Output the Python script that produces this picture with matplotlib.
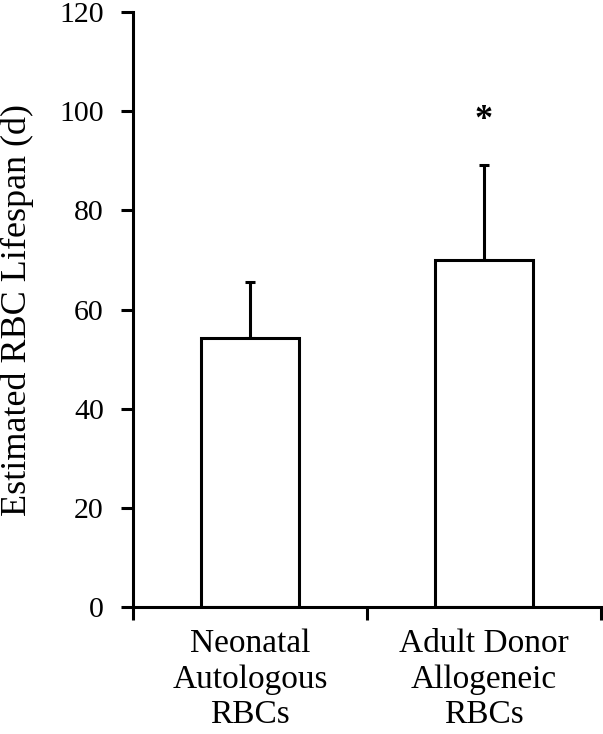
import matplotlib
matplotlib.use('Agg')
import matplotlib.pyplot as plt

plt.rcParams['font.family'] = ['Liberation Serif', 'DejaVu Serif']

groups = ['Neonatal\nAutologous\nRBCs', 'Adult Donor\nAllogeneic\nRBCs']
means = [54.3, 70.0]
sd = [11.3, 19.2]
sig = ['', '*']

fig = plt.figure(figsize=(6.03, 7.34), dpi=100)
ax = fig.add_axes([0.2206, 0.1734, 0.7761, 0.8098])

x = [0.5, 1.5]
ax.bar(x, means, width=0.42, color='white', edgecolor='black', linewidth=2.2, zorder=2)
ax.errorbar(x, means, yerr=[[0, 0], sd], fmt='none', ecolor='black',
            elinewidth=2.2, capsize=3.6, capthick=2.2, zorder=1)
for xi, m, s, t in zip(x, means, sd, sig):
    if t:
        ax.text(xi, m + s + 9, t, ha='center', va='center', fontsize=26, fontweight='bold')

ax.set_xlim(0, 2)
ax.set_ylim(0, 120)
ax.set_yticks(range(0, 121, 20))
ax.set_xticks([0, 1, 2])
ax.set_xticklabels([])
ax.set_xticks(x, minor=True)
ax.set_xticklabels(groups, minor=True, linespacing=1.2)
ax.tick_params(axis='x', which='minor', length=0, pad=16, labelsize=24)
ax.tick_params(axis='x', which='major', length=9, width=2.2, direction='out')
ax.tick_params(axis='y', length=9, width=2.2, direction='out', labelsize=21.5, pad=12)
ax.set_ylabel('Estimated RBC Lifespan (d)', fontsize=26)
ax.yaxis.label.set_va('center')
ax.yaxis.set_label_coords(-0.248, 0.5)

for side in ['top', 'right']:
    ax.spines[side].set_visible(False)
for side in ['left', 'bottom']:
    ax.spines[side].set_linewidth(2.2)

fig.savefig('out.png', dpi=100)
